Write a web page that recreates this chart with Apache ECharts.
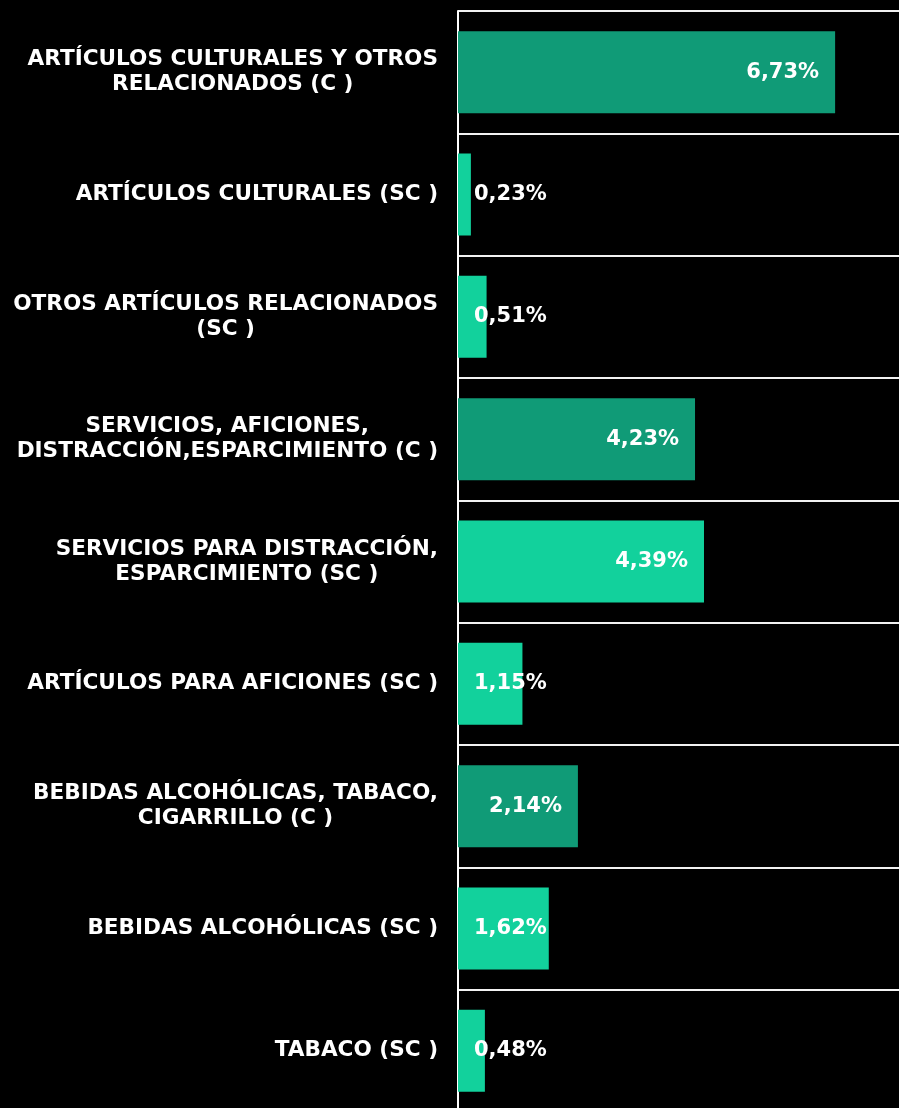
<!DOCTYPE html>
<html>
<head>
<meta charset="utf-8">
<script src="https://cdn.jsdelivr.net/npm/echarts@6/dist/echarts.min.js"></script>
<style>
  html, body { margin: 0; padding: 0; background: #000; }
  #chart { width: 899px; height: 1108px; }
</style>
</head>
<body>
<div id="chart"></div>
<script>
// categories, top to bottom
var categories = [
  "ARTÍCULOS CULTURALES Y OTROS\nRELACIONADOS (C )",
  "ARTÍCULOS CULTURALES (SC )",
  "OTROS ARTÍCULOS RELACIONADOS\n(SC )",
  "SERVICIOS, AFICIONES,\nDISTRACCIÓN,ESPARCIMIENTO (C )",
  "SERVICIOS PARA DISTRACCIÓN,\nESPARCIMIENTO (SC )",
  "ARTÍCULOS PARA AFICIONES (SC )",
  "BEBIDAS ALCOHÓLICAS, TABACO,\nCIGARRILLO (C )",
  "BEBIDAS ALCOHÓLICAS (SC )",
  "TABACO (SC )"
];
var values = [6.73, 0.23, 0.51, 4.23, 4.39, 1.15, 2.14, 1.62, 0.48];
// true = grupo (C), false = subgrupo (SC)
var isGroup = [true, false, false, true, false, false, true, false, false];

var FONT = "DejaVu Sans";
var darkGreen = "#109b77";
var lightGreen = "#12d19c";

var chart = echarts.init(document.getElementById("chart"));

var seriesData = values.map(function (v, i) {
  var big = v >= 2;
  return {
    value: v,
    itemStyle: { color: isGroup[i] ? darkGreen : lightGreen },
    label: {
      position: big ? "insideRight" : "insideLeft",
      distance: 16
    }
  };
});

var option = {
  backgroundColor: "#000",
  animation: false,
  grid: { left: 458, right: 0, top: 11, height: 1101, outerBoundsMode: "none" },
  xAxis: {
    type: "value",
    min: 0,
    max: 7.87,
    show: false
  },
  yAxis: {
    type: "category",
    inverse: true,
    data: categories,
    axisTick: { show: false },
    axisLine: { show: true, lineStyle: { color: "#fff", width: 2 } },
    splitLine: { show: true, lineStyle: { color: "#f2f2f2", width: 2 } },
    axisLabel: {
      margin: 20,
      align: "right",
      formatter: function (name) {
        return name.split("\n").map(function (s) { return "{c|" + s + "}"; }).join("\n");
      },
      rich: {
        c: {
          align: "center",
          color: "#fff",
          fontFamily: FONT,
          fontWeight: "bold",
          fontSize: 21.6,
          lineHeight: 25
        }
      }
    }
  },
  series: [
    {
      type: "bar",
      data: seriesData,
      barCategoryGap: "33%",
      label: {
        show: true,
        color: "#fff",
        fontFamily: FONT,
        fontWeight: "bold",
        fontSize: 21,
        formatter: function (p) {
          return p.value.toFixed(2).replace(".", ",") + "%";
        }
      }
    }
  ]
};

chart.setOption(option);
</script>
</body>
</html>
